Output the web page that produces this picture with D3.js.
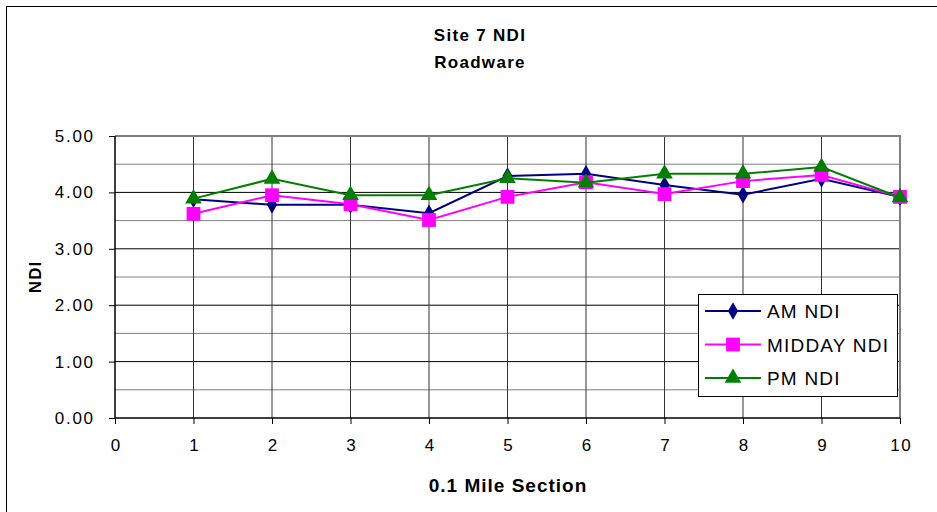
<!DOCTYPE html>
<html>
<head>
<meta charset="utf-8">
<script src="https://cdn.jsdelivr.net/npm/d3@7"></script>
<style>
  body { margin: 0; background: #fff; }
  text { font-family: "Liberation Sans", Arial, sans-serif; }
</style>
</head>
<body>
<svg id="chart" width="937" height="512"></svg>
<script>
// Sections along the road (0.1 mile each)
const sections = [1, 2, 3, 4, 5, 6, 7, 8, 9, 10];
const amNDI     = [3.88, 3.78, 3.78, 3.63, 4.29, 4.33, 4.13, 3.96, 4.24, 3.92];
const middayNDI = [3.62, 3.95, 3.79, 3.51, 3.92, 4.18, 3.97, 4.20, 4.31, 3.92];
const pmNDI     = [3.89, 4.24, 3.95, 3.95, 4.25, 4.17, 4.33, 4.33, 4.45, 3.91];
const xTicks = [0, 1, 2, 3, 4, 5, 6, 7, 8, 9, 10];
const yTicks = [0, 1, 2, 3, 4, 5];
const yMinorGrid = [0.5, 1.5, 2.5, 3.5, 4.5];

const seriesList = [
  { name: "AM NDI", values: amNDI, color: "#000080", symbol: d3.symbolDiamond, size: 90 },
  { name: "MIDDAY NDI", values: middayNDI, color: "#FF00FF", symbol: d3.symbolSquare, size: 190 },
  { name: "PM NDI", values: pmNDI, color: "#008000", symbol: d3.symbolTriangle, size: 120 }
];

const svg = d3.select("#chart");

// Outer chart frame
svg.append("rect")
  .attr("x", 6.5).attr("y", 6.5).attr("width", 940).attr("height", 520)
  .attr("fill", "#fff").attr("stroke", "#000").attr("stroke-width", 1);

const plot = { left: 115, right: 900, top: 136, bottom: 418 };
const x = d3.scaleLinear().domain([0, 10]).range([plot.left, plot.right]);
const y = d3.scaleLinear().domain([0, 5]).range([plot.bottom, plot.top]);

// Minor horizontal gridlines
svg.append("g").selectAll("line").data(yMinorGrid).join("line")
  .attr("x1", plot.left).attr("x2", plot.right)
  .attr("y1", d => y(d)).attr("y2", d => y(d))
  .attr("stroke", "#808080").attr("stroke-width", 1);

// Major horizontal gridlines
svg.append("g").selectAll("line").data(yTicks.filter(d => d > 0 && d < 5)).join("line")
  .attr("x1", plot.left).attr("x2", plot.right)
  .attr("y1", d => y(d)).attr("y2", d => y(d))
  .attr("stroke", "#000").attr("stroke-width", 1);

// Vertical gridlines
svg.append("g").selectAll("line").data(xTicks.filter(d => d > 0 && d < 10)).join("line")
  .attr("x1", d => x(d)).attr("x2", d => x(d))
  .attr("y1", plot.top).attr("y2", plot.bottom)
  .attr("stroke", "#333").attr("stroke-width", 1);

// Plot area border (top and right)
svg.append("path")
  .attr("d", `M${plot.left},${plot.top}H${plot.right}V${plot.bottom}`)
  .attr("fill", "none").attr("stroke", "#808080").attr("stroke-width", 2);

// Axes
const yAxis = svg.append("g")
  .attr("transform", `translate(${plot.left},0)`)
  .call(d3.axisLeft(y).tickValues(yTicks).tickFormat(d3.format(".2f")).tickSize(6).tickPadding(16));
const xAxis = svg.append("g")
  .attr("transform", `translate(0,${plot.bottom})`)
  .call(d3.axisBottom(x).tickValues(xTicks).tickFormat(d3.format("d")).tickSize(6).tickPadding(15));

[yAxis, xAxis].forEach(g => {
  g.select(".domain").attr("stroke", "#000").attr("stroke-width", 1.5);
  g.selectAll(".tick line").attr("stroke", "#000");
  g.selectAll(".tick text").attr("font-size", 17).attr("fill", "#000")
    .attr("letter-spacing", 1.7)
    .attr("font-family", "'Liberation Sans', Arial, sans-serif");
});
yAxis.selectAll(".tick text").attr("dx", 1.7);
xAxis.selectAll(".tick text").attr("dx", 0.85);
yAxis.select(".domain").attr("d", `M-0,${plot.top}V${plot.bottom}`);
xAxis.select(".domain").attr("d", `M${plot.left},0H${plot.right}`);

// Series lines and markers
const line = d3.line().x((d, i) => x(sections[i])).y(d => y(d));
seriesList.forEach(s => {
  svg.append("path").datum(s.values)
    .attr("d", line).attr("fill", "none")
    .attr("stroke", s.color).attr("stroke-width", 2);
  svg.append("g").selectAll("path").data(s.values).join("path")
    .attr("transform", (d, i) => `translate(${x(sections[i])},${y(d)})`)
    .attr("d", d3.symbol().type(s.symbol).size(s.size))
    .attr("fill", s.color);
});

// Titles
svg.append("text").attr("x", 480).attr("y", 41).attr("text-anchor", "middle")
  .attr("font-size", 17).attr("font-weight", "bold").attr("letter-spacing", 1.3).text("Site 7 NDI");
svg.append("text").attr("x", 480).attr("y", 68).attr("text-anchor", "middle")
  .attr("font-size", 17).attr("font-weight", "bold").attr("letter-spacing", 1.3).text("Roadware");
svg.append("text").attr("x", 508).attr("y", 492).attr("text-anchor", "middle")
  .attr("font-size", 19).attr("font-weight", "bold").attr("letter-spacing", 1).text("0.1 Mile Section");
svg.append("text").attr("transform", "translate(41,277) rotate(-90)").attr("text-anchor", "middle")
  .attr("font-size", 17).attr("font-weight", "bold").attr("letter-spacing", 1).text("NDI");

// Legend
const legend = svg.append("g").attr("transform", "translate(698,294)");
legend.append("rect").attr("x", 0.5).attr("y", 0.5).attr("width", 199).attr("height", 102)
  .attr("fill", "#fff").attr("stroke", "#000").attr("stroke-width", 1);
seriesList.forEach((s, i) => {
  const ly = 17 + i * 33.5;
  legend.append("line").attr("x1", 7).attr("x2", 63).attr("y1", ly).attr("y2", ly)
    .attr("stroke", s.color).attr("stroke-width", 2);
  legend.append("path").attr("transform", `translate(35,${ly})`)
    .attr("d", d3.symbol().type(s.symbol).size(s.size)).attr("fill", s.color);
  legend.append("text").attr("x", 69).attr("y", ly + 7)
    .attr("font-size", 19).attr("letter-spacing", 1.2).attr("fill", "#000").text(s.name);
});
</script>
</body>
</html>
